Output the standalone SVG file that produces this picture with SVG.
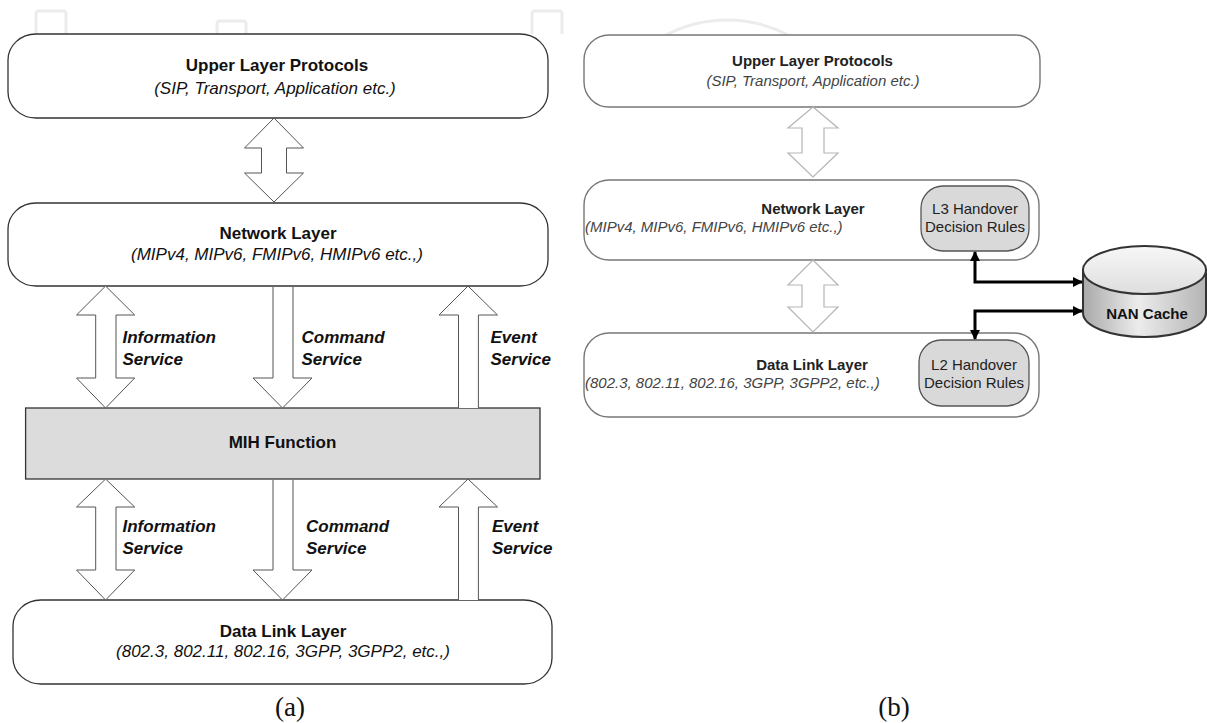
<svg xmlns="http://www.w3.org/2000/svg" width="1207" height="723" viewBox="0 0 1207 723">
<style>
.t{font-family:"Liberation Sans",Arial,sans-serif;fill:#111}
.b{font-weight:bold}
.i{font-style:italic}
.L{font-size:17px}
.R{font-size:15px}
.rb{fill:#222}
.ri{fill:#444}
.box{fill:#fff;stroke:#333;stroke-width:1.3}
.rbox{fill:#fff;stroke:#777;stroke-width:1.4}
.inner{fill:#d9d9d9;stroke:#555;stroke-width:1.3}
.arr{fill:#fff;stroke:#555;stroke-width:1}
.rarr{fill:#fff;stroke:#b5b5b5;stroke-width:1.2}
.wm{fill:none;stroke:#ececec;stroke-width:3}
.conn{fill:none;stroke:#000;stroke-width:3}
</style>
<defs>
<marker id="ah" viewBox="0 0 10 10" refX="9" refY="5" markerWidth="3.6" markerHeight="3.4" orient="auto-start-reverse" markerUnits="strokeWidth">
<path d="M0,0 L10,5 L0,10 Z" fill="#000"/>
</marker>
<linearGradient id="body" x1="0" y1="0" x2="1" y2="0">
<stop offset="0" stop-color="#a9a9a9"/>
<stop offset="0.45" stop-color="#ececec"/>
<stop offset="1" stop-color="#b4b4b4"/>
</linearGradient>
<linearGradient id="top" x1="0" y1="0" x2="0" y2="1">
<stop offset="0" stop-color="#f7f7f7"/>
<stop offset="1" stop-color="#dedede"/>
</linearGradient>
</defs>
<rect width="1207" height="723" fill="#fff"/>
<g id="watermark">
<path class="wm" d="M36,34 V14 Q36,11 39,11 H63 Q66,11 66,14 V34"/>
<path class="wm" d="M217,34 V24 Q217,21 220,21 H243 Q246,21 246,24 V34"/>
<path class="wm" d="M532,34 V14 Q532,11 535,11 H559 Q562,11 562,14 V34"/>
<path class="wm" d="M666,35 A131.5,131.5 0 0 1 788,35"/>
</g>
<g id="a-upper">
<rect class="box" x="8" y="34" width="540" height="84" rx="28" ry="26"/>
<text class="t b L" x="277" y="71" text-anchor="middle">Upper Layer Protocols</text>
<text class="t i L" x="275" y="94" text-anchor="middle">(SIP, Transport, Application etc.)</text>
</g>
<g id="a-network">
<rect class="box" x="8" y="203" width="540" height="83" rx="28" ry="26"/>
<text class="t b L" x="278" y="239" text-anchor="middle">Network Layer</text>
<text class="t i L" x="277" y="260" text-anchor="middle">(MIPv4, MIPv6, FMIPv6, HMIPv6 etc.,)</text>
</g>
<g id="a-mih">
<rect x="25.6" y="408" width="514.4" height="71" fill="#dcdcdc" stroke="#333" stroke-width="1.3"/>
<text class="t b L" x="282.5" y="448" text-anchor="middle">MIH Function</text>
</g>
<g id="a-datalink">
<rect class="box" x="13" y="600" width="539" height="84" rx="28" ry="26"/>
<text class="t b L" x="283" y="637" text-anchor="middle">Data Link Layer</text>
<text class="t i L" x="283" y="657" text-anchor="middle">(802.3, 802.11, 802.16, 3GPP, 3GPP2, etc.,)</text>
</g>
<g id="b-upper">
<rect class="rbox" x="584" y="35" width="456" height="72" rx="25"/>
<text class="t b R rb" x="812.5" y="66" text-anchor="middle">Upper Layer Protocols</text>
<text class="t i R ri" x="813" y="86" text-anchor="middle">(SIP, Transport, Application etc.)</text>
</g>
<g id="b-network">
<rect class="rbox" x="584" y="180" width="455" height="80" rx="25"/>
<text class="t b R rb" x="813" y="214" text-anchor="middle">Network Layer</text>
<text class="t i R ri" x="585" y="232">(MIPv4, MIPv6, FMIPv6, HMIPv6 etc.,)</text>
</g>
<g id="b-l3">
<rect class="inner" x="921" y="186" width="108" height="65" rx="22"/>
<text class="t R rb" x="975" y="214" text-anchor="middle">L3 Handover</text>
<text class="t R rb" x="975" y="232" text-anchor="middle">Decision Rules</text>
</g>
<g id="b-datalink">
<rect class="rbox" x="584" y="333" width="455" height="84" rx="25"/>
<text class="t b R rb" x="812" y="370" text-anchor="middle">Data Link Layer</text>
<text class="t i R ri" x="585" y="388">(802.3, 802.11, 802.16, 3GPP, 3GPP2, etc.,)</text>
</g>
<g id="b-l2">
<rect class="inner" x="919" y="340" width="110" height="66" rx="22"/>
<text class="t R rb" x="974" y="370" text-anchor="middle">L2 Handover</text>
<text class="t R rb" x="974" y="388" text-anchor="middle">Decision Rules</text>
</g>
<g id="b-nancache">
<path d="M1083,270 V313 A61.5,24 0 0 0 1206,313 V270 Z" fill="url(#body)" stroke="#333" stroke-width="2"/>
<ellipse cx="1144.5" cy="270" rx="61.5" ry="24" fill="url(#top)" stroke="#333" stroke-width="2"/>
<text class="t b R" x="1147" y="319" text-anchor="middle" fill="#333">NAN Cache</text>
</g>
<g id="connectors">
<path class="arr" d="M274,118 L303.5,148 L286.5,148 L286.5,173 L303.5,173 L274,202 L244.5,173 L261.5,173 L261.5,148 L244.5,148 Z"/>
<path class="arr" d="M105.6,286 L134.7,315 L116,315 L116,378 L134.7,378 L105.6,408 L76.5,378 L95.7,378 L95.7,315 L76.5,315 Z"/>
<path class="arr" d="M273,287 L273,378 L253,378 L282.5,408 L312,378 L293,378 L293,287"/>
<path class="arr" d="M458.5,408 L458.5,315 L439,315 L468,286 L497.5,315 L478.4,315 L478.4,408"/>
<path class="arr" d="M105.6,479 L134.7,507 L116,507 L116,570 L134.7,570 L105.6,600 L76.5,570 L95.7,570 L95.7,507 L76.5,507 Z"/>
<path class="arr" d="M273,480 L273,570 L253,570 L282.5,600 L312,570 L293,570 L293,480"/>
<path class="arr" d="M458.5,600 L458.5,507 L439,507 L468,479 L497.5,507 L478.4,507 L478.4,600"/>
<path class="rarr" d="M813,107 L838,128 L824,128 L824,153 L838,153 L813,177 L788,153 L802,153 L802,128 L788,128 Z"/>
<path class="rarr" d="M813,260 L838,285 L824,285 L824,307 L838,307 L813,332 L788,307 L802,307 L802,285 L788,285 Z"/>
<polyline class="conn" points="975,252 975,282 1082,282" marker-start="url(#ah)" marker-end="url(#ah)"/>
<polyline class="conn" points="1082,311 975,311 975,339" marker-start="url(#ah)" marker-end="url(#ah)"/>
</g>
<g id="labels">
<text class="t b i L" x="122.5" y="343">Information</text>
<text class="t b i L" x="122.5" y="365">Service</text>
<text class="t b i L" x="301.5" y="343">Command</text>
<text class="t b i L" x="301.5" y="365">Service</text>
<text class="t b i L" x="490.5" y="343">Event</text>
<text class="t b i L" x="490.5" y="365">Service</text>
<text class="t b i L" x="122.5" y="532">Information</text>
<text class="t b i L" x="122.5" y="554">Service</text>
<text class="t b i L" x="306" y="532">Command</text>
<text class="t b i L" x="306" y="554">Service</text>
<text class="t b i L" x="492" y="532">Event</text>
<text class="t b i L" x="492" y="554">Service</text>
</g>
<g id="captions">
<text x="290" y="716" text-anchor="middle" font-family="Liberation Serif, serif" font-size="27" fill="#111">(a)</text>
<text x="894" y="716" text-anchor="middle" font-family="Liberation Serif, serif" font-size="27" fill="#111">(b)</text>
</g>
</svg>
